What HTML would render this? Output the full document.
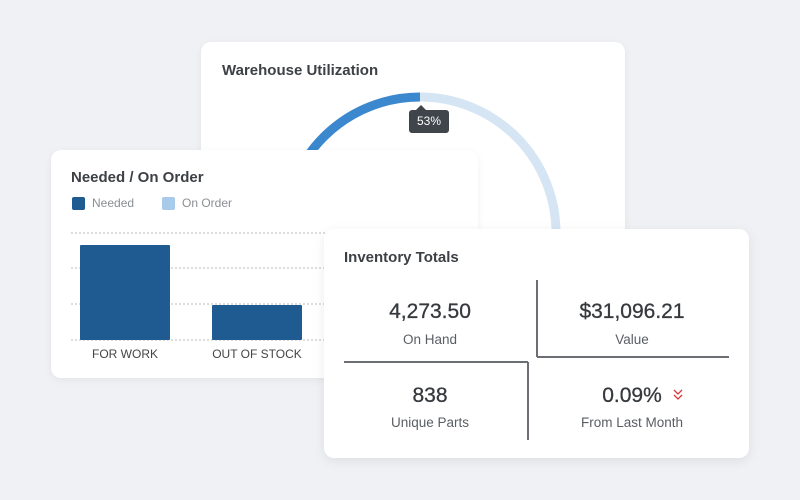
<!DOCTYPE html>
<html><head><style>
body{margin:0;width:800px;height:500px;background:#eff1f4;position:relative;overflow:hidden;font-family:"Liberation Sans",sans-serif;color:#3f4347}
.card{position:absolute;background:#fff;border-radius:10px;box-shadow:0 2px 8px rgba(0,0,0,0.06)}
.t{position:absolute;font-weight:bold;font-size:15px;color:#3d4044}
.abs{position:absolute}
.num{position:absolute;width:190px;text-align:center;font-size:21px;color:#36393d;-webkit-text-stroke:0.3px #36393d}
.lbl{position:absolute;width:190px;text-align:center;font-size:13.5px;color:#5a5e63}
</style></head><body>
<div class="card" style="left:201px;top:42px;width:424px;height:300px"></div>
<div class="t" style="left:222px;top:62px">Warehouse Utilization</div>
<svg class="abs" style="left:0;top:0" width="800" height="500">
<path d="M284,233 A136,136 0 0 1 420,97" fill="none" stroke="#3b88cf" stroke-width="9"/>
<path d="M420,97 A136,136 0 0 1 556,233" fill="none" stroke="#d5e5f3" stroke-width="9"/>
</svg>
<div class="abs" style="left:409px;top:110px;width:40px;height:23px;background:#3f454b;border-radius:3px;color:#fff;font-size:12px;text-align:center;line-height:23px">53%</div>
<div class="abs" style="left:416px;top:105px;width:0;height:0;border-left:5px solid transparent;border-right:5px solid transparent;border-bottom:5px solid #3f454b"></div>

<div class="card" style="left:51px;top:150px;width:427px;height:228px"></div>
<div class="t" style="left:71px;top:169px">Needed / On Order</div>
<div class="abs" style="left:72px;top:197px;width:13px;height:13px;background:#1f5a91;border-radius:2px"></div>
<div class="abs" style="left:92px;top:196px;font-size:12px;color:#8a8e93">Needed</div>
<div class="abs" style="left:162px;top:197px;width:13px;height:13px;background:#a7cbe8;border-radius:2px"></div>
<div class="abs" style="left:182px;top:196px;font-size:12px;color:#8a8e93">On Order</div>
<svg class="abs" style="left:0;top:0" width="800" height="500">
<g stroke="#bbb" stroke-dasharray="2,2" stroke-width="1">
<line x1="71" y1="233" x2="330" y2="233"/><line x1="71" y1="268" x2="330" y2="268"/>
<line x1="71" y1="304" x2="330" y2="304"/><line x1="71" y1="340" x2="330" y2="340"/></g>
<rect x="80" y="245" width="90" height="95" fill="#1f5a91" rx="1"/>
<rect x="212" y="305" width="90" height="35" fill="#1f5a91" rx="1"/>
</svg>
<div class="abs" style="left:75px;top:347px;width:100px;text-align:center;font-size:12px;color:#444">FOR WORK</div>
<div class="abs" style="left:202px;top:347px;width:110px;text-align:center;font-size:12px;color:#444">OUT OF STOCK</div>

<div class="card" style="left:324px;top:229px;width:425px;height:229px;box-shadow:0 3px 12px rgba(0,0,0,0.08)"></div>
<div class="t" style="left:344px;top:249px">Inventory Totals</div>
<svg class="abs" style="left:0;top:0" width="800" height="500">
<g stroke="#6b6e72" stroke-width="2" fill="none">
<line x1="537" y1="280" x2="537" y2="357"/><line x1="537" y1="357" x2="729" y2="357"/>
<line x1="344" y1="362" x2="528" y2="362"/><line x1="528" y1="362" x2="528" y2="440"/></g>
<path d="M674,390 l4,4 l4,-4 M674,395 l4,4 l4,-4" stroke="#d9363e" stroke-width="1.3" fill="none"/>
</svg>
<div class="num" style="left:335px;top:300px">4,273.50</div>
<div class="lbl" style="left:335px;top:332px">On Hand</div>
<div class="num" style="left:537px;top:300px">$31,096.21</div>
<div class="lbl" style="left:537px;top:332px">Value</div>
<div class="num" style="left:335px;top:384px">838</div>
<div class="lbl" style="left:335px;top:415px">Unique Parts</div>
<div class="num" style="left:537px;top:384px">0.09%</div>
<div class="lbl" style="left:537px;top:415px">From Last Month</div>
</body></html>
